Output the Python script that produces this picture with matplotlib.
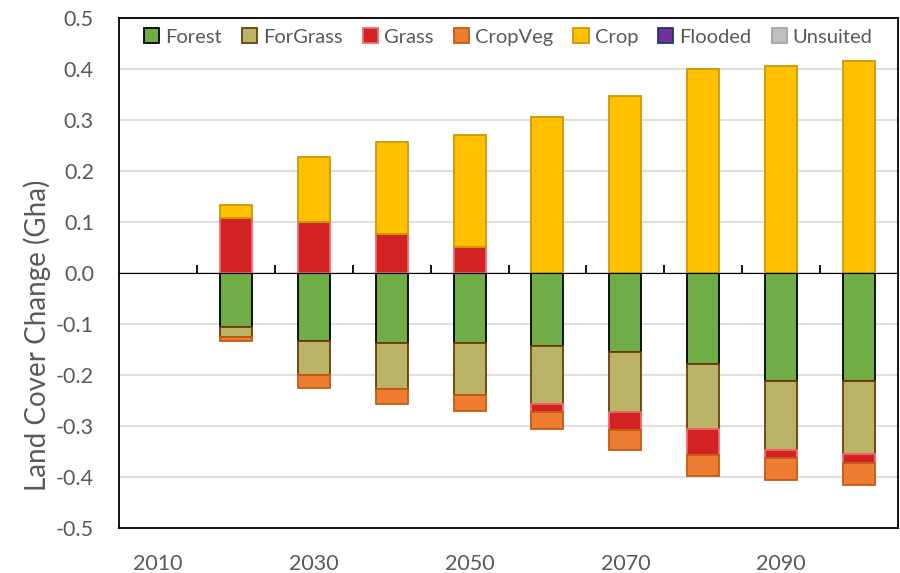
import numpy as np
import matplotlib
matplotlib.use("Agg")
import matplotlib.pyplot as plt
from matplotlib.patches import Patch

plt.rcParams['font.family'] = ['Lato', 'DejaVu Sans']

years = [2010, 2020, 2030, 2040, 2050, 2060, 2070, 2080, 2090, 2100]
tick_years = [2010, 2030, 2050, 2070, 2090]

forest   = [0.0, -0.107, -0.133, -0.137, -0.137, -0.143, -0.156, -0.180, -0.212, -0.212]
forgrass = [0.0, -0.019, -0.068, -0.092, -0.103, -0.115, -0.117, -0.127, -0.135, -0.144]
grass    = [0.0,  0.108,  0.099,  0.077,  0.051, -0.016, -0.035, -0.051, -0.016, -0.018]
cropveg  = [0.0, -0.007, -0.026, -0.029, -0.031, -0.033, -0.039, -0.041, -0.043, -0.043]
crop     = [0.0,  0.025,  0.128,  0.180,  0.220,  0.306,  0.346,  0.399,  0.406,  0.416]
flooded  = [0.0] * 10
unsuited = [0.0] * 10

series = [
    ("Forest",   forest,   "#70AD47", "#000000"),
    ("ForGrass", forgrass, "#BBB466", "#6B3E0C"),
    ("Grass",    grass,    "#D22222", "#F06A6A"),
    ("CropVeg",  cropveg,  "#ED7D31", "#C55A11"),
    ("Crop",     crop,     "#FFC000", "#C99A00"),
    ("Flooded",  flooded,  "#7030A0", "#203864"),
    ("Unsuited", unsuited, "#BFBFBF", "#A5A5A5"),
]

text_color = "#595959"

fig = plt.figure(figsize=(9, 5.73), dpi=100)
ax = fig.add_axes([0.1322, 0.0794, 0.8656, 0.8892])

x = np.arange(len(years))
width = 0.41
pos_base = np.zeros(len(years))
neg_base = np.zeros(len(years))

for name, vals, fc, ec in series:
    v = np.array(vals)
    bottoms = np.where(v >= 0, pos_base, neg_base)
    mask = v != 0
    ax.bar(x[mask], v[mask], width, bottom=bottoms[mask], color=fc,
           edgecolor=ec, linewidth=1.3, zorder=3)
    pos_base += np.where(v > 0, v, 0)
    neg_base += np.where(v < 0, v, 0)

ax.set_xlim(-0.5, len(years) - 0.5)
ax.set_ylim(-0.5, 0.5)
yticks = np.round(np.arange(-0.5, 0.51, 0.1), 1)
ax.set_yticks(yticks)
ax.set_yticklabels([f"{abs(t):.1f}" if t == 0 else f"{t:.1f}" for t in yticks])
ax.yaxis.grid(True, color="#D9D9D9", linewidth=1.2, zorder=0)
ax.set_axisbelow(True)

ax.set_xticks([years.index(y) for y in tick_years])
ax.set_xticklabels([str(y) for y in tick_years])
ax.tick_params(axis='x', length=0, pad=19, labelsize=15.5, labelcolor=text_color)
ax.tick_params(axis='y', length=0, pad=18, labelsize=15.5, labelcolor=text_color)

for sp in ax.spines.values():
    sp.set_color("black")
    sp.set_linewidth(1.3)

# zero line with category separator ticks
zero_axis = ax.secondary_xaxis(0.5)
zero_axis.set_xticks(x[:-1] + 0.5)
zero_axis.set_xticklabels([])
zero_axis.tick_params(axis='x', direction='out', length=6, width=1.3, color='black')
zero_axis.spines['bottom'].set_linewidth(1.6)
zero_axis.spines['bottom'].set_color('black')
zero_axis.set_zorder(4)

# axis title sits a little below the vertical centre of the plot area
fig.text(0.041, 0.415, "Land Cover Change (Gha)", rotation=90, ha='center',
         va='center', fontsize=20, color=text_color)

handles = [Patch(facecolor=fc, edgecolor=ec, linewidth=1.3, label=name)
           for name, vals, fc, ec in series]
leg = ax.legend(handles=handles, loc='upper center', ncol=7, frameon=False,
                fontsize=14.5, handlelength=0.75, handleheight=0.75,
                handletextpad=0.3, columnspacing=1.0,
                bbox_to_anchor=(0.5, 1.015), labelcolor=text_color)

fig.savefig("out.png", dpi=100)
